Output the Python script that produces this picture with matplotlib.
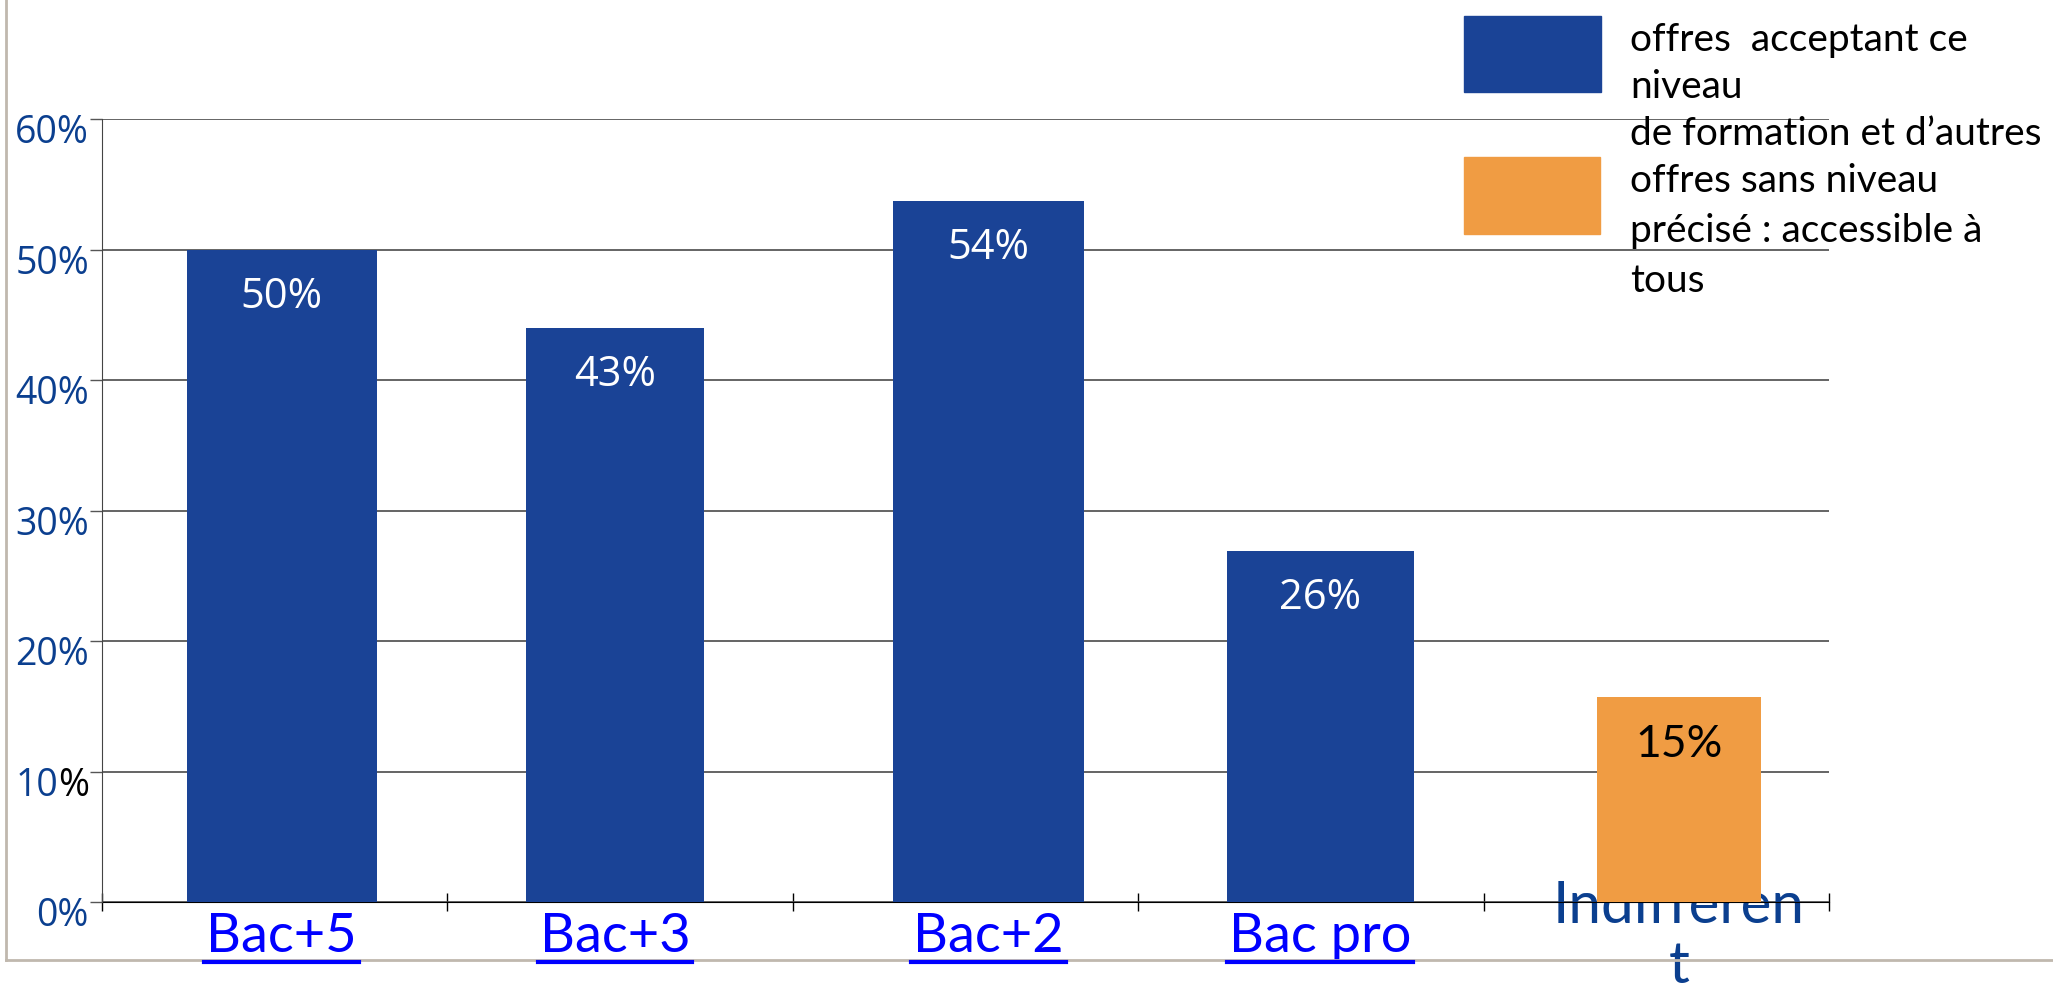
import matplotlib
matplotlib.use('Agg')
import matplotlib.pyplot as plt
from matplotlib.patches import Rectangle
from matplotlib.lines import Line2D

# données
categories = ['Bac+5', 'Bac+3', 'Bac+2', 'Bac pro', 'Indifferen\nt']
values = [50.0, 44.0, 53.7, 26.9, 15.7]
value_labels = ['50%', '43%', '54%', '26%', '15%']
y_ticks = [0, 10, 20, 30, 40, 50, 60]
y_tick_labels = ['0%', '10%', '20%', '30%', '40%', '50%', '60%']
legend_labels = ['offres  acceptant ce\nniveau\nde formation et d\u2019autres',
                 'offres sans niveau\nprécisé : accessible à\ntous']

# mise en forme
BLUE = '#1A4396'
ORANGE = '#F09C43'
TICK_BLUE = '#0B3F8F'
LINK_BLUE = '#0000FF'
bar_colors = [BLUE, BLUE, BLUE, BLUE, ORANGE]
bar_offsets = [0.02, -0.015, 0.067, 0.027, 0.066]   # décalage des barres dans chaque case
bar_widths = [0.55, 0.515, 0.553, 0.541, 0.475]
label_colors = ['white', 'white', 'white', 'white', 'black']
label_fonts = ['Open Sans', 'Open Sans', 'Open Sans', 'Open Sans', 'Lato']
label_sizes = [30, 30, 30, 30, 32]
cat_colors = [LINK_BLUE, LINK_BLUE, LINK_BLUE, LINK_BLUE, TICK_BLUE]
cat_sizes = [39, 39, 39, 39, 42]
cat_underline = [True, True, True, True, False]

W, H = 2053, 991
fig = plt.figure(figsize=(W / 100, H / 100), dpi=100)
ax = fig.add_axes([102 / W, 89 / H, (1829 - 102) / W, (902 - 119) / H])

x = [i + off for i, off in enumerate(bar_offsets)]
bars = ax.bar(x, values, width=bar_widths, color=bar_colors, zorder=2)

# étiquettes de valeur dans les barres
for b, lab, c, f, s in zip(bars, value_labels, label_colors, label_fonts, label_sizes):
    ax.annotate(lab, (b.get_x() + b.get_width() / 2, b.get_height()),
                xytext=(0, -34), textcoords='offset points',
                ha='center', va='center', color=c, fontsize=s, family=f, zorder=3)

ax.set_xlim(-0.5, 4.5)
ax.set_ylim(0, 60)

# axe y : graduations, libellés écrits à la main
ax.set_yticks(y_ticks)
ax.tick_params(axis='y', direction='out', length=9, width=1, color='#555555', labelleft=False)
ax.yaxis.grid(True, color='#4a4a4a', linewidth=1.2)
ax.set_axisbelow(True)

ytick_style = dict(xycoords=('axes fraction', 'data'), textcoords='offset points',
                   ha='right', va='center_baseline', fontsize=27, family='Open Sans')
for yv, lab in zip(y_ticks, y_tick_labels):
    if lab == '10%':
        # le "%" de 10% est noir
        tmp = fig.text(0, 0, '%', fontsize=27, family='Open Sans')
        fig.canvas.draw()
        w_pct = tmp.get_window_extent(fig.canvas.get_renderer()).width / 100 * 72
        tmp.remove()
        ax.annotate(lab[:-1], (0, yv), xytext=(-9.4 - w_pct, -7), color=TICK_BLUE, **ytick_style)
        ax.annotate('%', (0, yv), xytext=(-9.4, -7), color='black', **ytick_style)
    else:
        ax.annotate(lab, (0, yv), xytext=(-9.4, -7), color=TICK_BLUE, **ytick_style)

# axe x : petites graduations entre les catégories
ax.set_xticks([i - 0.5 for i in range(len(categories) + 1)])
ax.set_xticklabels([])
ax.tick_params(axis='x', direction='inout', length=13, width=1, color='black')

ax.spines['top'].set_visible(False)
ax.spines['right'].set_visible(False)
ax.spines['left'].set_color('#444444')
ax.spines['bottom'].set_color('black')
ax.spines['bottom'].set_zorder(1.5)

# libellés de catégories (sous les barres, la barre orange passe devant)
cat_texts = []
for i, (cat, c, s) in enumerate(zip(categories, cat_colors, cat_sizes)):
    t = ax.annotate(cat, (x[i], 0), xycoords=('data', 'axes fraction'),
                    xytext=(0, -25), textcoords='offset points',
                    ha='center', va='center', fontsize=s, family='Lato',
                    color=c, zorder=1, annotation_clip=False, linespacing=1.15)
    cat_texts.append(t)

# légende dessinée à la main
fig.patches.append(Rectangle((1464 / W, 1 - 92 / H), 137 / W, 76 / H,
                             transform=fig.transFigure, color=BLUE))
fig.patches.append(Rectangle((1464 / W, 1 - 234 / H), 136 / W, 77 / H,
                             transform=fig.transFigure, color=ORANGE))
fig.text(1630 / W, 1 - 87 / H, legend_labels[0], ha='left', va='center',
         fontsize=28, family='Lato', color='black', linespacing=1.37)
fig.text(1630 / W, 1 - 231 / H, legend_labels[1], ha='left', va='center',
         fontsize=28, family='Lato', color='black', linespacing=1.48)

# cadre gris autour
fig.lines.append(Line2D([6 / W, 6 / W], [1 - 960 / H, 1], transform=fig.transFigure,
                        color='#C0B8AE', linewidth=2))
fig.lines.append(Line2D([6 / W, 1], [1 - 960 / H, 1 - 960 / H], transform=fig.transFigure,
                        color='#C0B8AE', linewidth=2))

fig.canvas.draw()
renderer = fig.canvas.get_renderer()

# soulignement des liens
for t, u in zip(cat_texts, cat_underline):
    if u:
        bb = t.get_window_extent(renderer)
        fig.lines.append(Line2D([(bb.x0 - 2) / W, (bb.x1 + 2) / W], [29 / H, 29 / H],
                                transform=fig.transFigure, color=LINK_BLUE, linewidth=3))

fig.savefig('out.png', dpi=100)
